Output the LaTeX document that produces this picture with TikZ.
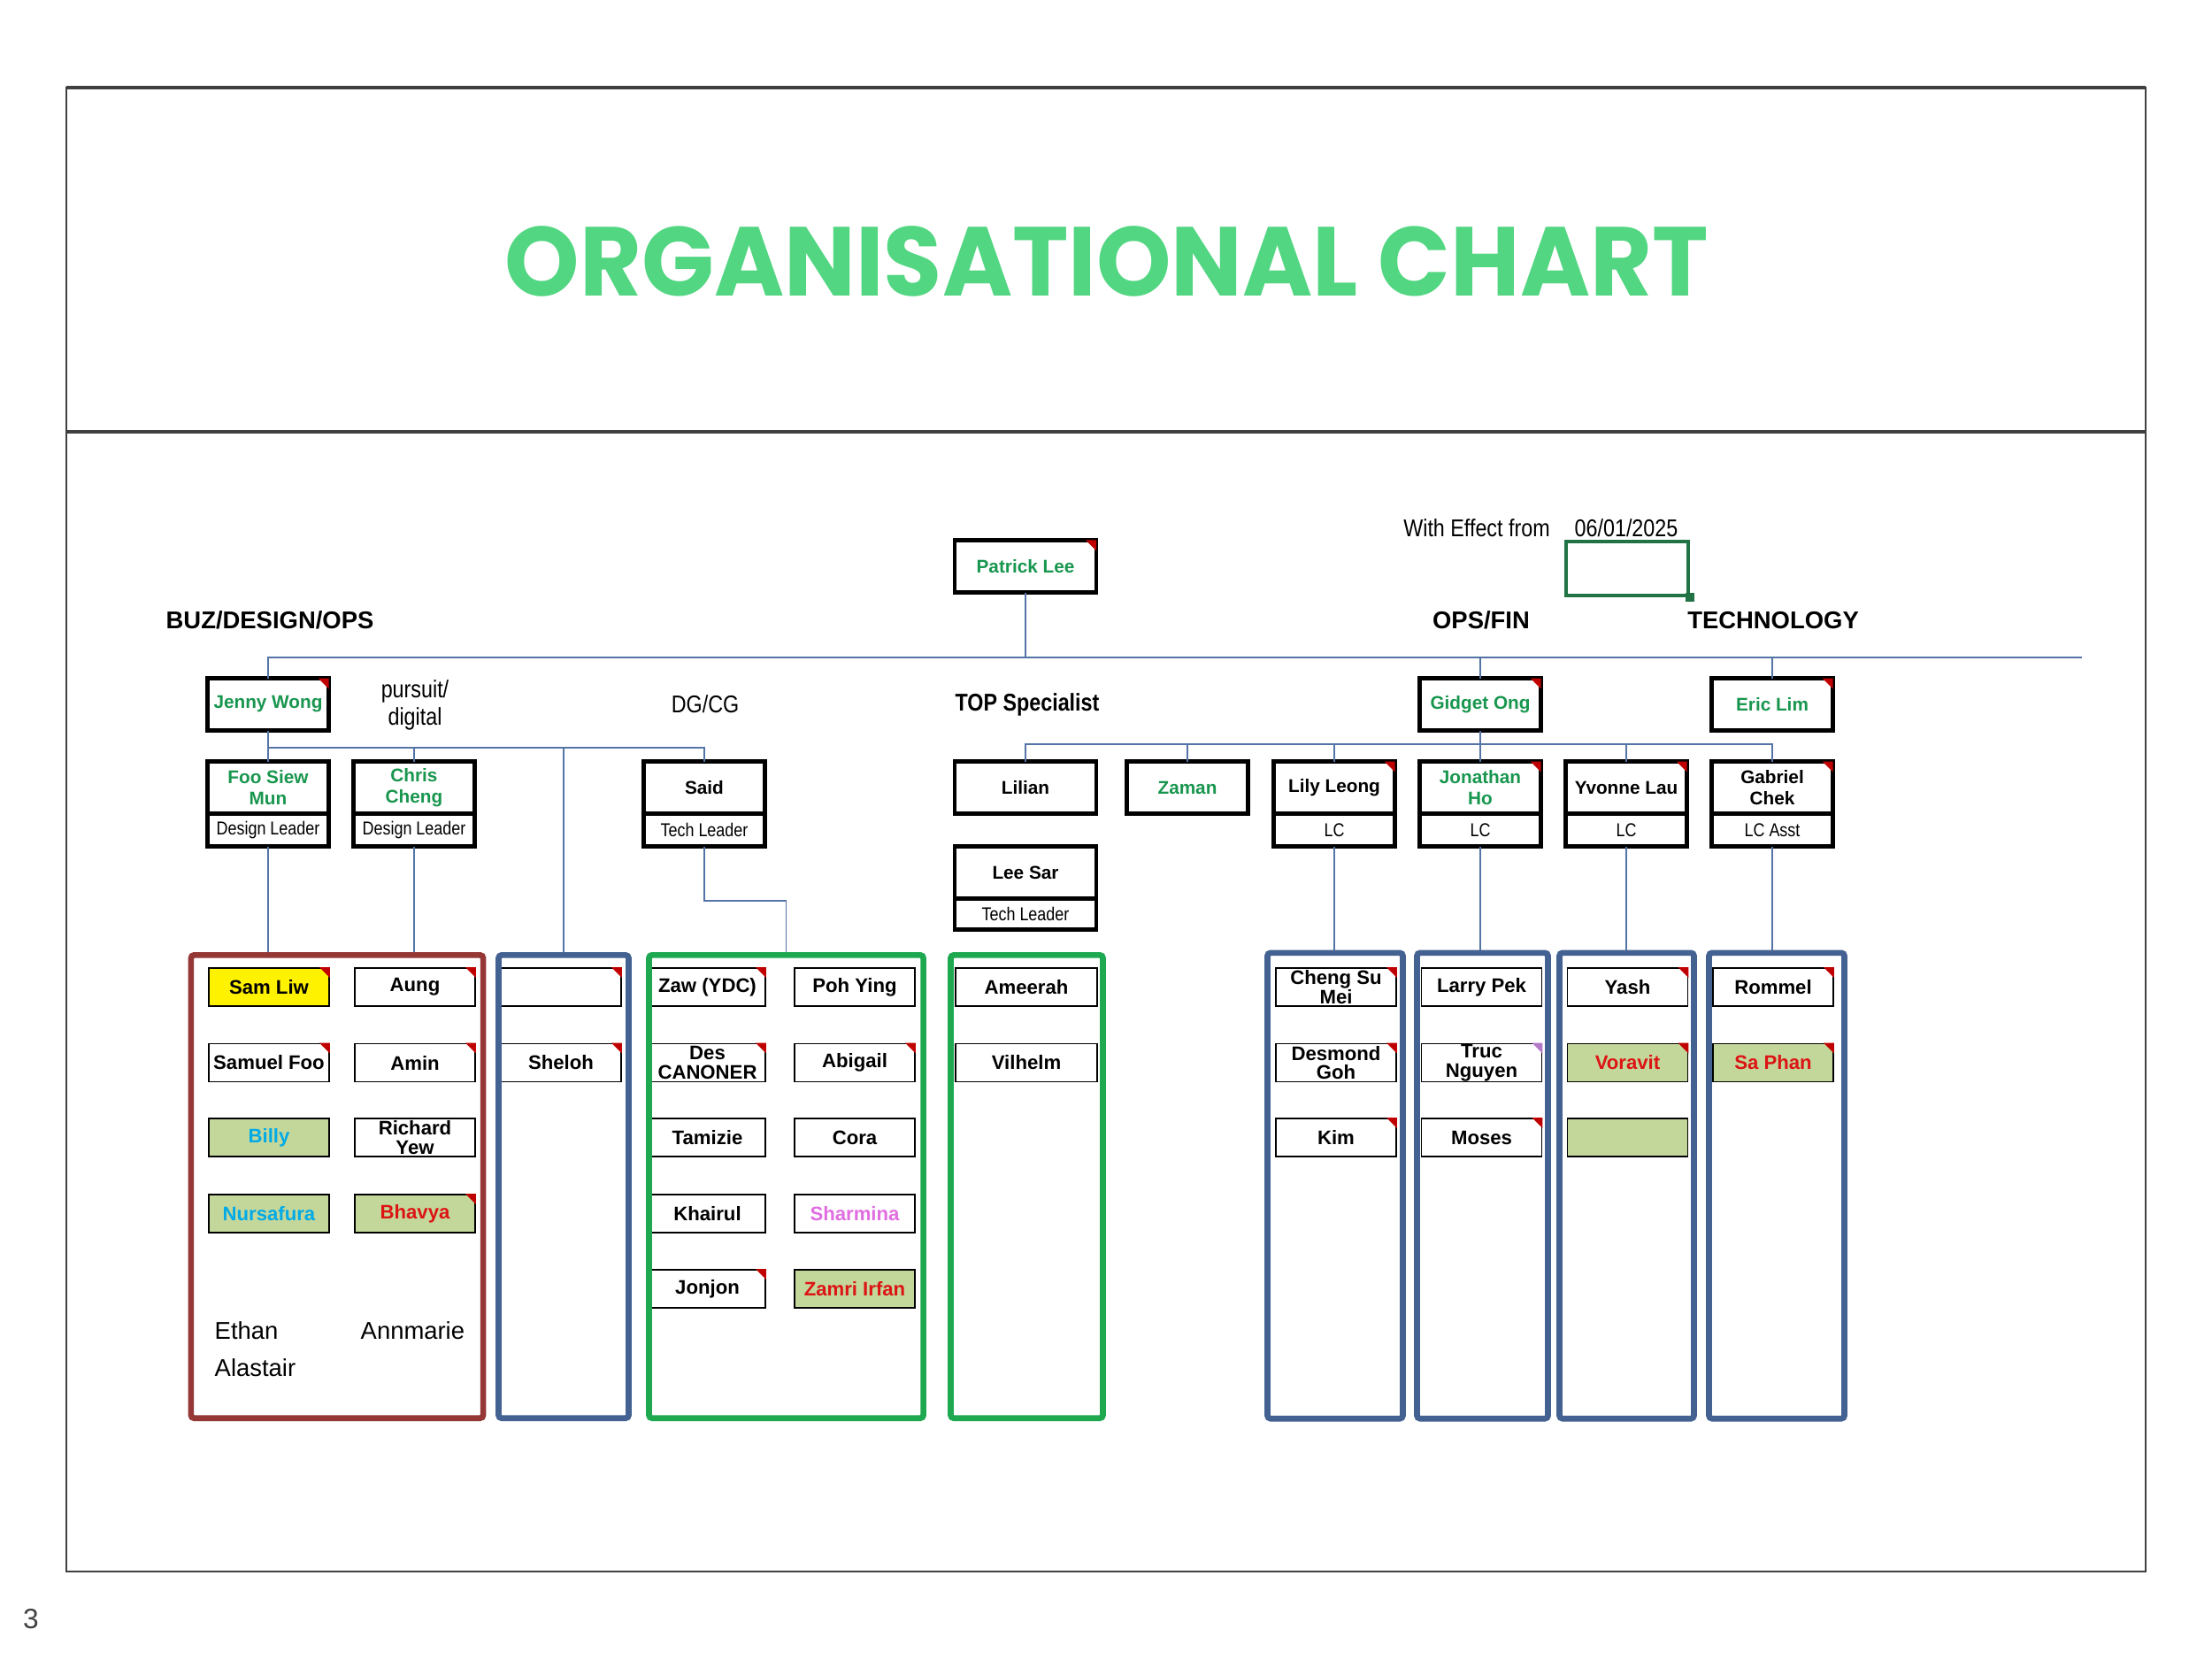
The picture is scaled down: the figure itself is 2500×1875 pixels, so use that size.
\documentclass[tikz,border=0pt]{standalone}
\usepackage{fontspec}
\setmainfont{Liberation Sans}
\newfontfamily\narrowfont[FakeStretch=0.85]{Liberation Sans}
\newfontfamily\titlefont{Poppins}

\definecolor{titlegreen}{RGB}{82,214,129}
\definecolor{namegreen}{RGB}{24,150,78}
\definecolor{linkblue}{RGB}{84,116,166}
\definecolor{teamred}{RGB}{149,55,53}
\definecolor{teamblue}{RGB}{68,98,145}
\definecolor{teamgreen}{RGB}{30,168,80}
\definecolor{olive}{RGB}{196,215,155}
\definecolor{alertred}{RGB}{220,20,20}
\definecolor{skyblue}{RGB}{0,170,230}
\definecolor{violetname}{RGB}{225,110,225}
\definecolor{flagred}{RGB}{192,0,0}
\definecolor{flagviolet}{RGB}{180,120,200}
\definecolor{framegrey}{RGB}{64,64,64}
\definecolor{selgreen}{RGB}{33,115,70}

\begin{document}
\begin{tikzpicture}[x=0.01cm, y=-0.01cm,
	every node/.style={font=\fontsize{6.4}{7}\selectfont},
	head/.style={draw, line width=1.3pt, outer sep=0pt, minimum width=1.37cm, minimum height=0.59cm, inner sep=0pt, align=center, font=\bfseries\fontsize{5.9}{7}\selectfont},
	role/.style={draw, line width=1.3pt, outer sep=0pt, minimum width=1.37cm, minimum height=0.37cm, inner sep=0pt, font=\narrowfont\fontsize{6}{7}\selectfont},
	member/.style={draw, line width=0.5pt, minimum width=1.36cm, minimum height=0.43cm, inner sep=0pt, align=center, font=\bfseries\fontsize{6.3}{6.2}\selectfont},
	team/.style={draw=#1, line width=1.9pt, rounded corners=1pt, inner sep=0pt},
	link/.style={draw=linkblue, line width=0.55pt},
	depthead/.style={font=\bfseries\fontsize{7.8}{9}\selectfont},
	deptnote/.style={font=\narrowfont\fontsize{7.8}{8.8}\selectfont, align=center},
	extra/.style={anchor=west, inner sep=0pt, font=\fontsize{7.8}{9}\selectfont}]
	\path[fill=white, use as bounding box] (0,0) rectangle (2500,1875);

	% page frame and title
	\draw[framegrey, line width=0.7pt] (75,99) rectangle (2425,1776);
	\draw[framegrey, line width=1.1pt] (75,99) -- (2425,99);
	\draw[framegrey, line width=1.1pt] (75,488) -- (2425,488);
	\node[font=\titlefont\bfseries\fontsize{31.5}{38}\selectfont, text=titlegreen, xscale=0.97] (title) at (1251,295) {ORGANISATIONAL CHART};
	\node[font=\fontsize{9}{10}\selectfont, text=framegrey] (pg) at (35,1830) {3};

	% headings
	\node[depthead] (buz) at (305,701) {BUZ/DESIGN/OPS};
	\node[depthead] (opsfin) at (1674,701) {OPS/FIN};
	\node[depthead] (tech) at (2004,701) {TECHNOLOGY};
	\node[deptnote] (pursuit) at (469,797) {pursuit/\\digital};
	\node[deptnote] (dgcg) at (797,796) {DG/CG};
	\node[deptnote, font=\narrowfont\bfseries\fontsize{7.8}{9}\selectfont] (topspec) at (1161,796) {TOP Specialist};
	\node[deptnote] (wef) at (1669,597) {With Effect from};
	\node[deptnote] (date) at (1838,597) {06/01/2025};
	\node[draw=selgreen, line width=0.9pt, minimum width=1.38cm, minimum height=0.61cm, inner sep=0pt] (sel) at (1839,642.5) {};
	\fill[selgreen] ([shift={(-5,-5)}]sel.south east) rectangle ++(10,10);

	% leaders
	\node[head, minimum width=1.6cm, text=namegreen] (pl) at (1159,640) {Patrick Lee};
	\node[head, text=namegreen] (jw) at (303,796) {Jenny Wong};
	\node[head, text=namegreen] (go) at (1673,796) {Gidget Ong};
	\node[head, text=namegreen] (el) at (2003,796) {Eric Lim};

	\node[head, text=namegreen] (fsm) at (303,890) {Foo Siew\\Mun};
	\node[role, anchor=north] (fsmr) at (fsm.south) {Design Leader};
	\node[head, text=namegreen] (cc) at (468,890) {Chris\\Cheng};
	\node[role, anchor=north] (ccr) at (cc.south) {Design Leader};
	\node[head] (sd) at (796,890) {Said};
	\node[role, anchor=north] (sdr) at (sd.south) {Tech Leader};
	\node[head, minimum width=1.6cm] (li) at (1159,890) {Lilian};
	\node[head, minimum width=1.6cm] (ls) at (1159,986) {Lee Sar};
	\node[role, minimum width=1.6cm, minimum height=0.35cm, anchor=north] (lsr) at (ls.south) {Tech Leader};
	\node[head, text=namegreen] (zm) at (1342,890) {Zaman};
	\node[head] (ll) at (1508,890) {Lily Leong};
	\node[role, anchor=north] (llr) at (ll.south) {LC};
	\node[head, text=namegreen] (jh) at (1673,890) {Jonathan\\Ho};
	\node[role, anchor=north] (jhr) at (jh.south) {LC};
	\node[head] (yl) at (1838,890) {Yvonne Lau};
	\node[role, anchor=north] (ylr) at (yl.south) {LC};
	\node[head] (gc) at (2003,890) {Gabriel\\Chek};
	\node[role, anchor=north] (gcr) at (gc.south) {LC Asst};

	% teams
	\node[member, fill=yellow] (sam) at (304,1115.5) {Sam Liw};
	\node[member] (samf) at (304,1201) {Samuel Foo};
	\node[member, fill=olive, text=skyblue] (billy) at (304,1285.5) {Billy};
	\node[member, fill=olive, text=skyblue] (nurs) at (304,1371.5) {Nursafura};
	\node[member] (aung) at (469,1115.5) {Aung};
	\node[member] (amin) at (469,1201) {Amin};
	\node[member] (rich) at (469,1285.5) {Richard\\Yew};
	\node[member, fill=olive, text=alertred] (bhav) at (469,1371.5) {Bhavya};
	\node[extra] (ethan) at (242,1504) {Ethan};
	\node[extra] (alas) at (242,1546) {Alastair};
	\node[extra] (annm) at (407,1504) {Annmarie};

	\node[member] (vac) at (634,1115.5) {};
	\node[member] (shel) at (634,1201) {Sheloh};

	\node[member, minimum width=1.31cm] (zaw) at (799.5,1115.5) {Zaw (YDC)};
	\node[member, minimum width=1.31cm] (des) at (799.5,1201) {Des\\CANONER};
	\node[member, minimum width=1.31cm] (tam) at (799.5,1285.5) {Tamizie};
	\node[member, minimum width=1.31cm] (khai) at (799.5,1371.5) {Khairul};
	\node[member, minimum width=1.31cm] (jon) at (799.5,1456.5) {Jonjon};
	\node[member] (poh) at (966,1115.5) {Poh Ying};
	\node[member] (abi) at (966,1201) {Abigail};
	\node[member] (cora) at (966,1285.5) {Cora};
	\node[member, text=violetname] (sharm) at (966,1371.5) {Sharmina};
	\node[member, fill=olive, text=alertred] (zamri) at (966,1456.5) {Zamri Irfan};

	\node[member, minimum width=1.6cm] (amee) at (1160,1115.5) {Ameerah};
	\node[member, minimum width=1.6cm] (vil) at (1160,1201) {Vilhelm};

	\node[member] (csm) at (1510,1115.5) {Cheng Su\\Mei};
	\node[member] (dg) at (1510,1201) {Desmond\\Goh};
	\node[member] (kim) at (1510,1285.5) {Kim};
	\node[member] (lp) at (1674.5,1115.5) {Larry Pek};
	\node[member] (tn) at (1674.5,1201) {Truc\\Nguyen};
	\node[member] (mos) at (1674.5,1285.5) {Moses};
	\node[member] (yash) at (1839.5,1115.5) {Yash};
	\node[member, fill=olive, text=alertred] (vor) at (1839.5,1201) {Voravit};
	\node[member, fill=olive] (vac2) at (1839.5,1285.5) {};
	\node[member] (rom) at (2004,1115.5) {Rommel};
	\node[member, fill=olive, text=alertred] (sap) at (2004,1201) {Sa Phan};

	\node[team=teamred, minimum width=3.30cm, minimum height=5.23cm] (tr) at (381,1341) {};
	\node[team=teamblue, minimum width=1.47cm, minimum height=5.23cm] (tb1) at (637,1341) {};
	\node[team=teamgreen, minimum width=3.10cm, minimum height=5.23cm] (tg1) at (888.5,1341) {};
	\node[team=teamgreen, minimum width=1.72cm, minimum height=5.23cm] (tg2) at (1160.5,1341) {};
	\node[team=teamblue, minimum width=1.53cm, minimum height=5.26cm] (tb2) at (1509,1340) {};
	\node[team=teamblue, minimum width=1.48cm, minimum height=5.26cm] (tb3) at (1675.5,1340) {};
	\node[team=teamblue, minimum width=1.52cm, minimum height=5.26cm] (tb4) at (1838.5,1340) {};
	\node[team=teamblue, minimum width=1.53cm, minimum height=5.26cm] (tb5) at (2008,1340) {};

	% comment markers
	\foreach \n in {pl,jw,go,el,ll,jh,yl,gc,sam,aung,samf,amin,bhav,vac,shel,zaw,des,abi,jon,csm,dg,kim,mos,yash,vor,rom,sap}
		\fill[flagred] (\n.north east) -- ++(-12,0) -- ++(12,12) -- cycle;
	\fill[flagviolet] (tn.north east) -- ++(-12,0) -- ++(12,12) -- cycle;

	% connectors
	\coordinate (bus) at (2353,743);
	\draw[link] (jw.north) |- (bus);
	\draw[link] (pl.south) -- (pl.south |- bus);
	\draw[link] (go.north) -- (go.north |- bus);
	\draw[link] (el.north) -- (el.north |- bus);

	\coordinate (jbus) at (303,845);
	\draw[link] (jw.south) -- (fsm.north);
	\draw[link] (jbus) -| (sd.north);
	\draw[link] (cc.north) -- (cc.north |- jbus);
	\draw[link] (tb1.north) -- (tb1.north |- jbus);
	\coordinate (sbend) at (797,1018);
	\draw[link] (sdr.south) -- (sdr.south |- sbend) -| (tg1.north);

	\coordinate (gbus) at (1673,841);
	\draw[link] (go.south) -- (jh.north);
	\draw[link] (li.north) -- (li.north |- gbus) -| (gc.north);
	\foreach \n in {zm,ll,yl}
		\draw[link] (\n.north) -- (\n.north |- gbus);

	\foreach \h/\t in {fsmr/tr, ccr/tr, llr/tb2, jhr/tb3, ylr/tb4, gcr/tb5}
		\draw[link] (\h.south) -- (\h.south |- \t.north);
\end{tikzpicture}
\end{document}
